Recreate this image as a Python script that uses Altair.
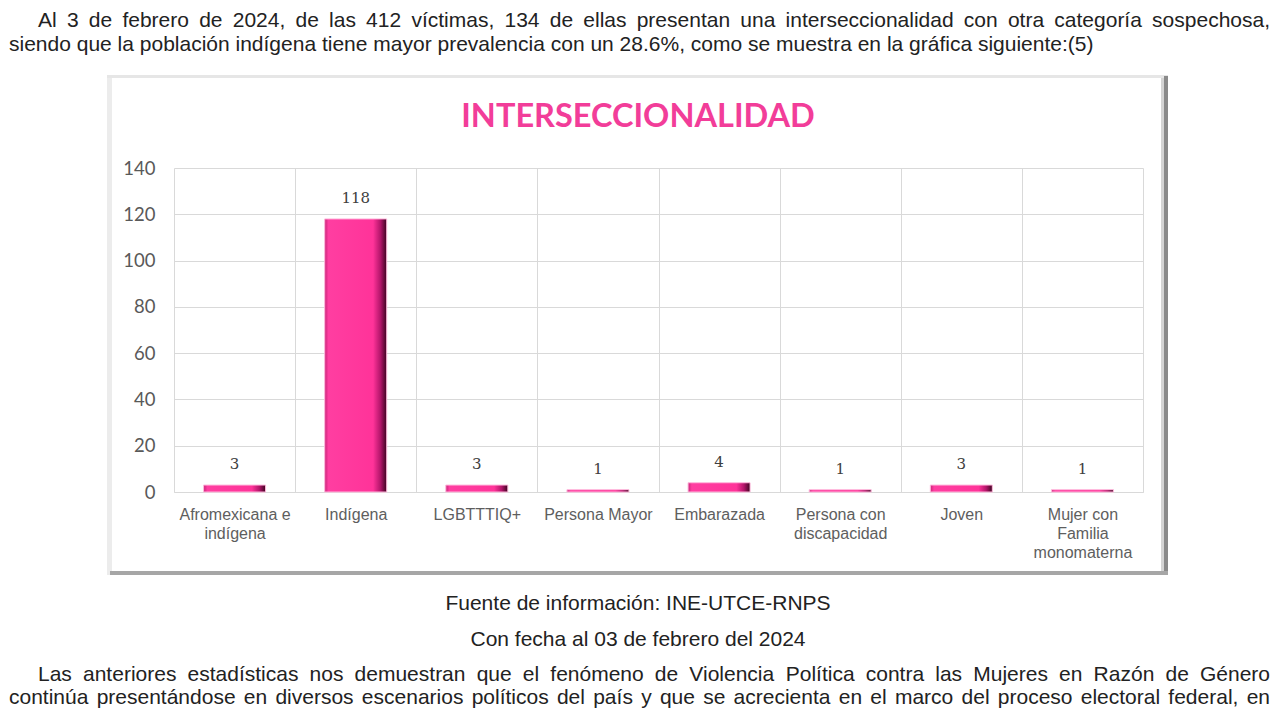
import altair as alt
import pandas as pd

# ---- data ----
categories = [
    "Afromexicana e\nindígena",
    "Indígena",
    "LGBTTTIQ+",
    "Persona Mayor",
    "Embarazada",
    "Persona con\ndiscapacidad",
    "Joven",
    "Mujer con\nFamilia\nmonomaterna",
]
values = [3, 118, 3, 1, 4, 1, 3, 1]
y_ticks = [0, 20, 40, 60, 80, 100, 120, 140]

chart_title = "INTERSECCIONALIDAD"
intro_lines = [
    "Al 3 de febrero de 2024, de las 412 víctimas, 134 de ellas presentan una interseccionalidad con otra categoría sospechosa,",
    "siendo que la población indígena tiene mayor prevalencia con un 28.6%, como se muestra en la gráfica siguiente:(5)",
]
source_lines = [
    "Fuente de información: INE-UTCE-RNPS",
    "Con fecha al 03 de febrero del 2024",
]
outro_lines = [
    "Las anteriores estadísticas nos demuestran que el fenómeno de Violencia Política contra las Mujeres en Razón de Género",
    "continúa presentándose en diversos escenarios políticos del país y que se acrecienta en el marco del proceso electoral federal, en",
]

df = pd.DataFrame({"categoria": categories, "valor": values})
one = pd.DataFrame({"k": [0]})

W, H = 969, 324
PINK = "#f23d99"
FS = 21  # body text size

# Arial / Liberation Sans advance widths (1/1000 em), used to justify lines
ARIAL = {" ": 278, ",": 278, ".": 278, ":": 278, "%": 889, "(": 333, ")": 333, "-": 333, "+": 584,
         "A": 667, "C": 722, "E": 667, "G": 778, "I": 278, "L": 556, "M": 833, "N": 722, "P": 667,
         "R": 722, "S": 667, "T": 611, "U": 722, "V": 667,
         "a": 556, "b": 556, "c": 500, "d": 556, "e": 556, "f": 278, "g": 556, "h": 556, "i": 222,
         "j": 222, "k": 500, "l": 222, "m": 833, "n": 556, "o": 556, "p": 556, "q": 556, "r": 333,
         "s": 500, "t": 278, "u": 556, "v": 500, "w": 722, "x": 500, "y": 500, "z": 500,
         "á": 556, "é": 556, "í": 278, "ó": 556, "ú": 556, "ñ": 556}


def word_w(w):
    return sum(ARIAL.get(c, 556) for c in w) * FS / 1000.0


def text_style():
    return dict(font="Liberation Sans", fontSize=FS, color="#222222", baseline="middle")


def justified(line, x0, x1, y):
    words = line.split(" ")
    widths = [word_w(w) for w in words]
    gap = (x1 - x0 - sum(widths)) / (len(words) - 1)
    xs, cur = [], x0
    for wd in widths:
        xs.append(cur)
        cur += wd + gap
    d = pd.DataFrame({"w": words, "px": xs, "py": [y] * len(words)})
    return alt.Chart(d).mark_text(align="left", **text_style()).encode(
        x=alt.X("px:Q", scale=None), y=alt.Y("py:Q", scale=None), text="w:N"
    )


def plain(line, x, y, align="left"):
    return alt.Chart(pd.DataFrame({"t": [line]})).mark_text(align=align, **text_style()).encode(
        x=alt.value(x), y=alt.value(y), text="t:N"
    )


def strip(color, x, x2, y, y2):
    return alt.Chart(one).mark_rect(fill=color).encode(
        x=alt.value(x), x2=alt.value(x2), y=alt.value(y), y2=alt.value(y2)
    )


# ---- frame around chart (drawn as border strips) ----
frame_parts = [
    strip("#ececec", -67, -62, -93, 407),
    strip("#e6e6e6", -67, 994, -93, -90),
    strip("#d4d4d4", 987, 990, -90, 404),
    strip("#8a8a8a", 990, 994, -92, 407),
    strip("#a6a6a6", -64, 994, 403, 407),
]

x_enc = alt.X(
    "categoria:N",
    sort=categories,
    scale=alt.Scale(paddingInner=0, paddingOuter=0),
    axis=alt.Axis(
        title=None,
        labelAngle=0,
        labelExpr="split(datum.label, '\\n')",
        labelFont="Liberation Sans",
        labelFontSize=16,
        labelColor="#5e5e5e",
        labelLineHeight=19,
        labelBaseline="top",
        labelPadding=14,
        ticks=False,
        tickBand="extent",
        grid=True,
        gridColor="#d9d9d9",
        domainColor="#d9d9d9",
        labelLimit=200,
    ),
)
y_enc = alt.Y(
    "valor:Q",
    scale=alt.Scale(domain=[0, 140], nice=False),
    axis=alt.Axis(
        title=None,
        values=y_ticks,
        grid=True,
        gridColor="#d9d9d9",
        domain=False,
        ticks=False,
        labelFont="Lato",
        labelFontSize=18.5,
        labelColor="#595959",
        labelPadding=19,
    ),
)

bar_fill = alt.Gradient(
    gradient="linear",
    x1=0, x2=1, y1=0, y2=0,
    stops=[
        alt.GradientStop(color="#c92479", offset=0),
        alt.GradientStop(color="#ff3ea1", offset=0.06),
        alt.GradientStop(color="#ff3399", offset=0.78),
        alt.GradientStop(color="#b3156a", offset=0.9),
        alt.GradientStop(color="#3d0420", offset=1),
    ],
)
bars = alt.Chart(df).mark_bar(size=62, fill=bar_fill, stroke="#ffb8dc", strokeWidth=1).encode(
    x=x_enc, y=y_enc
)
bar_labels = alt.Chart(df).mark_text(
    font="DejaVu Serif", fontSize=15, color="#404040", baseline="bottom", dy=-13
).encode(
    x=alt.X("categoria:N", sort=categories), y="valor:Q", text="valor:Q"
)

title_mark = alt.Chart(pd.DataFrame({"t": [chart_title]})).mark_text(
    font="Lato", fontWeight="bold", fontSize=32.5, color=PINK, align="center", baseline="middle"
).encode(x=alt.value(464), y=alt.value(-51), text="t:N")

# positions relative to the plot origin (page x 174, y 168)
texts = [
    justified(intro_lines[0], -136, 1096, -147),
    plain(intro_lines[1], -165, -123),
    plain(source_lines[0], 464, 436, "center"),
    plain(source_lines[1], 464, 472, "center"),
    justified(outro_lines[0], -136, 1096, 507),
    justified(outro_lines[1], -165, 1096, 530),
]

chart = alt.layer(*frame_parts, bars, bar_labels, title_mark, *texts).properties(
    width=W,
    height=H,
    padding={"left": 166, "top": 160, "right": 129, "bottom": 218},
    autosize=alt.AutoSizeParams(type="none"),
).configure_view(strokeWidth=0)

chart.save("out.html", embed_options={"renderer": "svg", "actions": False})
